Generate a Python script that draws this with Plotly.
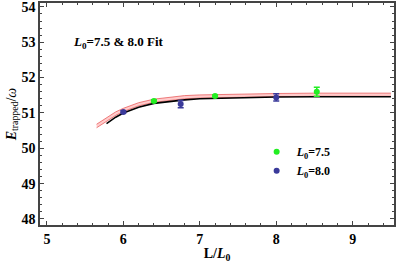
import plotly.graph_objects as go

# Data points
x_75 = [6.40, 7.20, 8.53]
y_75 = [51.34, 51.48, 51.60]
e_75 = [0.03, 0.03, 0.13]

x_80 = [6.00, 6.75, 8.00]
y_80 = [51.03, 51.25, 51.44]
e_80 = [0.03, 0.10, 0.10]

# Fit curve
fit_x = [5.78, 5.9, 6.0, 6.2, 6.4, 6.6, 6.8, 7.0, 7.5, 8.0, 8.5, 9.0, 9.5]
fit_y = [50.70, 50.88, 51.00, 51.16, 51.27, 51.33, 51.37, 51.40, 51.43, 51.45, 51.46, 51.46, 51.46]

# Fit band
band_x = [5.65, 5.8, 5.9, 6.0, 6.2, 6.4, 6.6, 6.8, 7.0, 7.5, 8.0, 8.5, 9.0, 9.5]
band_hi = [50.68, 50.90, 51.03, 51.13, 51.29, 51.39, 51.45, 51.49, 51.51, 51.54, 51.55, 51.56, 51.56, 51.56]
band_lo = [50.58, 50.80, 50.93, 51.04, 51.20, 51.30, 51.36, 51.40, 51.42, 51.45, 51.46, 51.47, 51.47, 51.47]

x_ticks = [5, 6, 7, 8, 9]
y_ticks = [48, 49, 50, 51, 52, 53, 54]

FONT = "Liberation Serif"

fig = go.Figure()
fig.add_trace(go.Scatter(x=band_x, y=band_lo, mode="lines",
                         line=dict(color="rgba(230,80,80,0.9)", width=0.8),
                         showlegend=False, hoverinfo="skip"))
fig.add_trace(go.Scatter(x=band_x, y=band_hi, mode="lines", fill="tonexty",
                         fillcolor="rgba(255,160,160,0.55)",
                         line=dict(color="rgba(230,80,80,0.9)", width=0.8),
                         showlegend=False, hoverinfo="skip"))
fig.add_trace(go.Scatter(x=fit_x, y=fit_y, mode="lines",
                         line=dict(color="black", width=1.6),
                         showlegend=False, hoverinfo="skip"))
fig.add_trace(go.Scatter(x=x_75, y=y_75, mode="markers",
                         marker=dict(color="#22ee22", size=6),
                         error_y=dict(type="data", array=e_75, color="#22ee22",
                                      thickness=1.5, width=3),
                         name="<b><i>L</i><sub>0</sub>=7.5</b>"))
fig.add_trace(go.Scatter(x=x_80, y=y_80, mode="markers",
                         marker=dict(color="#3a3a9a", size=6),
                         error_y=dict(type="data", array=e_80, color="#3a3a9a",
                                      thickness=1.5, width=3),
                         name="<b><i>L</i><sub>0</sub>=8.0</b>"))

fig.add_annotation(x=5.31, y=53.0, xref="x", yref="y", xanchor="left",
                   showarrow=False,
                   text="<b><i>L</i><sub>0</sub>=7.5 &amp; 8.0 Fit</b>",
                   font=dict(family=FONT, size=13, color="black"))

axis_common = dict(showgrid=False, zeroline=False, showline=True, linecolor="#444",
                   linewidth=1.5, mirror="allticks", ticks="inside", ticklen=4,
                   tickcolor="#444", tickwidth=1, automargin=False,
                   ticklabeloverflow="allow",
                   tickfont=dict(family=FONT, size=14, color="black"))

fig.update_xaxes(range=[4.91, 9.54], tickvals=x_ticks,
                 ticktext=[f"<b>{v}</b>" for v in x_ticks],
                 minor=dict(dtick=0.2, ticks="inside", ticklen=2, tickcolor="#444"),
                 title=dict(text="<b>L/<i>L</i><sub>0</sub></b>",
                            font=dict(family=FONT, size=14, color="black"), standoff=4),
                 **axis_common)
fig.update_yaxes(range=[47.83, 54.11], tickvals=y_ticks,
                 ticktext=[f"<b>{v}</b>" for v in y_ticks],
                 minor=dict(dtick=0.2, ticks="inside", ticklen=2, tickcolor="#444"),
                 title=dict(text="<b><i>E</i></b><sub>trapped</sub>/<i>ω</i>",
                            font=dict(family=FONT, size=14, color="black"), standoff=2),
                 **axis_common)

fig.update_layout(width=399, height=263, plot_bgcolor="white", paper_bgcolor="white",
                  margin=dict(l=40, r=5, t=3, b=38),
                  legend=dict(x=0.612, y=0.395, xanchor="left", yanchor="top",
                              bgcolor="rgba(0,0,0,0)", tracegroupgap=20,
                              traceorder="normal",
                              font=dict(family=FONT, size=12, color="black"),
                              itemwidth=30))

fig.write_html("out.html", config={"displayModeBar": False},
               post_script="document.body.style.margin='0';")
